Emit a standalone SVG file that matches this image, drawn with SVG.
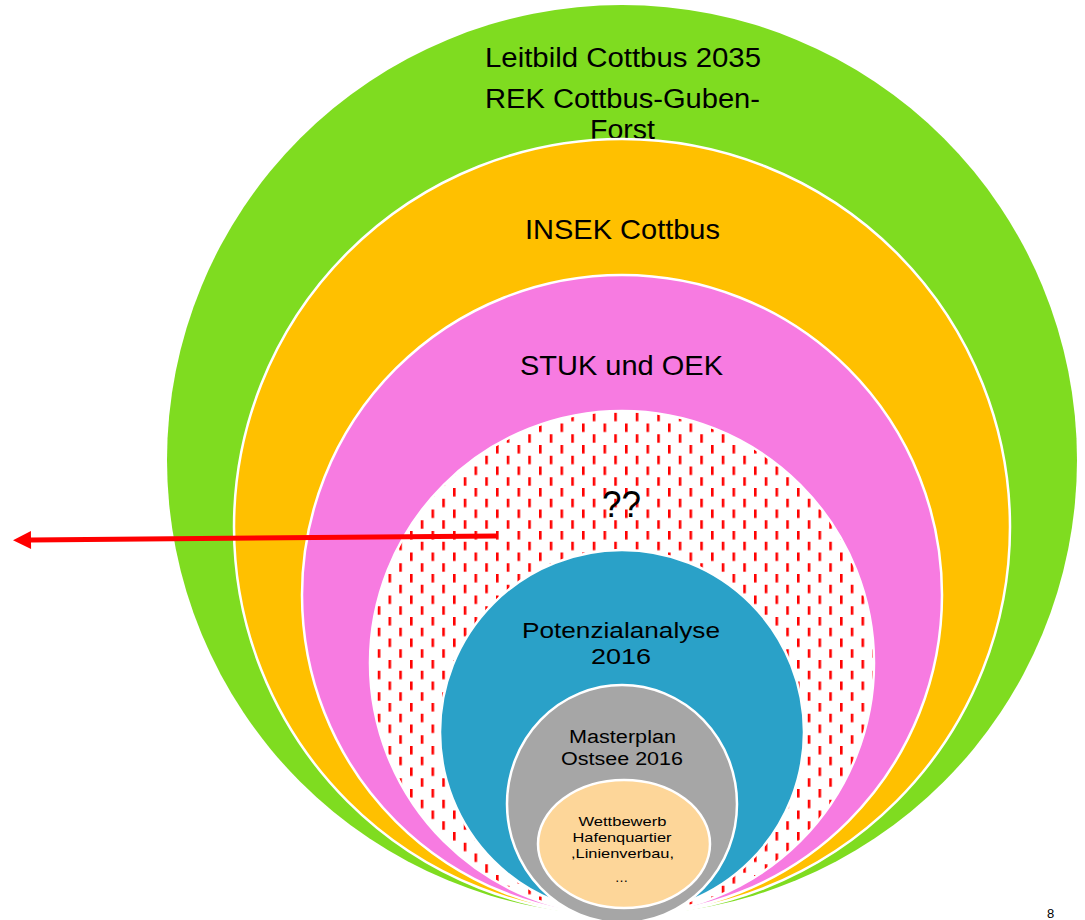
<svg xmlns="http://www.w3.org/2000/svg" width="1085" height="920" viewBox="0 0 1085 920">
  <style>
    .ring { stroke: #FFFFFF; stroke-width: 2.5; }
    .lbl { font-family: "Liberation Sans", Arial, sans-serif; fill: #000000; }
  </style>
  <defs>
    <pattern id="dashes" patternUnits="userSpaceOnUse" x="496" y="402" width="21.5" height="21.5">
      <rect x="0" y="0" width="21.5" height="21.5" fill="#FFFFFF"/>
      <rect x="0" y="0" width="2.6" height="8.5" fill="#FF0000"/>
      <rect x="10.75" y="10.75" width="2.6" height="8.5" fill="#FF0000"/>
    </pattern>
    <marker id="arrowHead" markerUnits="userSpaceOnUse" markerWidth="20" markerHeight="20" refX="0" refY="9" orient="auto" overflow="visible">
      <path d="M0,0 L18,9 L0,18 Z" fill="#FF0000"/>
    </marker>
  </defs>
  <rect x="0" y="0" width="1085" height="920" fill="#FFFFFF"/>

  <g id="leitbild">
    <circle cx="622" cy="460" r="455" fill="#7FDC20"/>
    <text class="lbl" x="485" y="67" font-size="27" textLength="276" lengthAdjust="spacingAndGlyphs">Leitbild Cottbus 2035</text>
    <text class="lbl" x="485" y="108" font-size="27" textLength="275" lengthAdjust="spacingAndGlyphs">REK Cottbus-Guben-</text>
    <text class="lbl" x="590" y="139" font-size="27" textLength="65" lengthAdjust="spacingAndGlyphs">Forst</text>
  </g>

  <g id="insek">
    <circle class="ring" cx="622" cy="527" r="388" fill="#FFC000"/>
    <text class="lbl" x="525" y="239" font-size="28" textLength="195" lengthAdjust="spacingAndGlyphs">INSEK Cottbus</text>
  </g>

  <g id="stuk">
    <circle class="ring" cx="622" cy="595" r="320" fill="#F77BE1"/>
    <text class="lbl" x="520" y="375" font-size="28" textLength="203" lengthAdjust="spacingAndGlyphs">STUK und OEK</text>
  </g>

  <g id="unknown">
    <circle class="ring" cx="622" cy="663" r="252" fill="url(#dashes)"/>
    <text class="lbl" x="602" y="517" font-size="36" textLength="39" lengthAdjust="spacingAndGlyphs">??</text>
  </g>

  <g id="potenzialanalyse">
    <circle class="ring" cx="622" cy="732" r="182" fill="#2AA1C8"/>
    <text class="lbl" x="522" y="638" font-size="22.5" textLength="198" lengthAdjust="spacingAndGlyphs">Potenzialanalyse</text>
    <text class="lbl" x="591" y="664" font-size="22.5" textLength="60" lengthAdjust="spacingAndGlyphs">2016</text>
  </g>

  <g id="masterplan">
    <ellipse class="ring" cx="622" cy="804" rx="115" ry="119" fill="#A6A6A6"/>
    <text class="lbl" x="569" y="743" font-size="18" textLength="107" lengthAdjust="spacingAndGlyphs">Masterplan</text>
    <text class="lbl" x="561" y="765" font-size="18" textLength="122" lengthAdjust="spacingAndGlyphs">Ostsee 2016</text>
  </g>

  <g id="wettbewerb">
    <ellipse class="ring" cx="624" cy="844" rx="86" ry="64" fill="#FDD699"/>
    <text class="lbl" x="578.5" y="826" font-size="13.5" textLength="88" lengthAdjust="spacingAndGlyphs">Wettbewerb</text>
    <text class="lbl" x="572.5" y="842" font-size="13.5" textLength="99" lengthAdjust="spacingAndGlyphs">Hafenquartier</text>
    <text class="lbl" x="571" y="858" font-size="13.5" textLength="103" lengthAdjust="spacingAndGlyphs">,Linienverbau,</text>
    <text class="lbl" x="621.5" y="882" font-size="13.5" text-anchor="middle">…</text>
  </g>

  <g id="connectors">
    <path d="M497,536 L31,540" stroke="#FF0000" stroke-width="5" fill="none" marker-end="url(#arrowHead)"/>
  </g>

  <g id="page-number">
    <text class="lbl" x="1047" y="918" font-size="13">8</text>
  </g>
</svg>
